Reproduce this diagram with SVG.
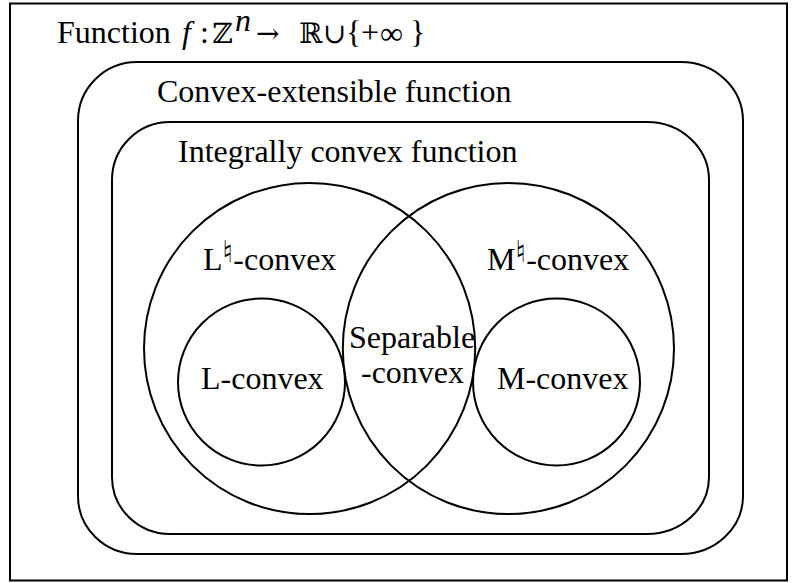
<svg xmlns="http://www.w3.org/2000/svg" width="798" height="583" viewBox="0 0 798 583">
<style>
.ln{fill:none;stroke:#000;stroke-width:2}
text{font-family:"Liberation Serif","DejaVu Serif",serif;font-size:32px;fill:#000}
.nat{font-family:"DejaVu Sans","DejaVu Serif",sans-serif;font-size:30px}
.it{font-style:italic}
.m{font-family:"DejaVu Serif","Liberation Serif",serif;font-size:28px}
</style>
<rect x="10" y="3.5" width="777" height="577" fill="#fff" stroke="#000" stroke-width="2"/>
<g id="title">
<text x="57" y="43" font-size="31">Function</text>
<text x="182" y="43" class="it" font-size="31">f</text>
<text x="200" y="43" font-size="31">:</text>
<text x="212" y="43" class="m">ℤ</text>
<text x="235" y="31" class="it" font-size="19">n</text>
<text x="256" y="43" class="m" font-size="34">→</text>
<text x="299" y="43" class="m">ℝ</text>
<text x="323" y="43" class="m">∪</text>
<text x="346" y="43" font-size="31">{</text>
<text x="361" y="43" font-size="31">+</text>
<text x="380" y="44" font-family="DejaVu Sans" font-size="40">∞</text>
<text x="410" y="43" font-size="31">}</text>
</g>
<g id="convex-extensible">
<path class="ln" d="M137,62 H681 A62,59 0 0 1 743,121 V496 A62,58 0 0 1 681,554 H137 A59,58 0 0 1 78,496 V121 A59,59 0 0 1 137,62 Z"/>
<text x="157" y="102">Convex-extensible function</text>
</g>
<g id="integrally-convex">
<path class="ln" d="M170,122 H647 A62,58 0 0 1 709,180 V477 A62,57 0 0 1 647,534 H170 A58,57 0 0 1 112,477 V180 A58,58 0 0 1 170,122 Z"/>
<text x="178" y="162">Integrally convex function</text>
</g>
<g id="lnat-convex">
<circle class="ln" cx="309.6" cy="348.5" r="165.6"/>
<text x="203" y="270">L<tspan class="nat" dy="-8">♮</tspan><tspan dy="8">-convex</tspan></text>
</g>
<g id="mnat-convex">
<circle class="ln" cx="508.4" cy="348.5" r="165.6"/>
<text x="487" y="270">M<tspan class="nat" dy="-8">♮</tspan><tspan dy="8">-convex</tspan></text>
</g>
<g id="l-convex">
<circle class="ln" cx="261.5" cy="382" r="83.5"/>
<text x="201" y="389">L-convex</text>
</g>
<g id="m-convex">
<circle class="ln" cx="556.5" cy="382" r="83.5"/>
<text x="497" y="389">M-convex</text>
</g>
<g id="separable-convex">
<text x="349" y="348">Separable</text>
<text x="361" y="383">-convex</text>
</g>
<g id="connectors"></g>
</svg>
